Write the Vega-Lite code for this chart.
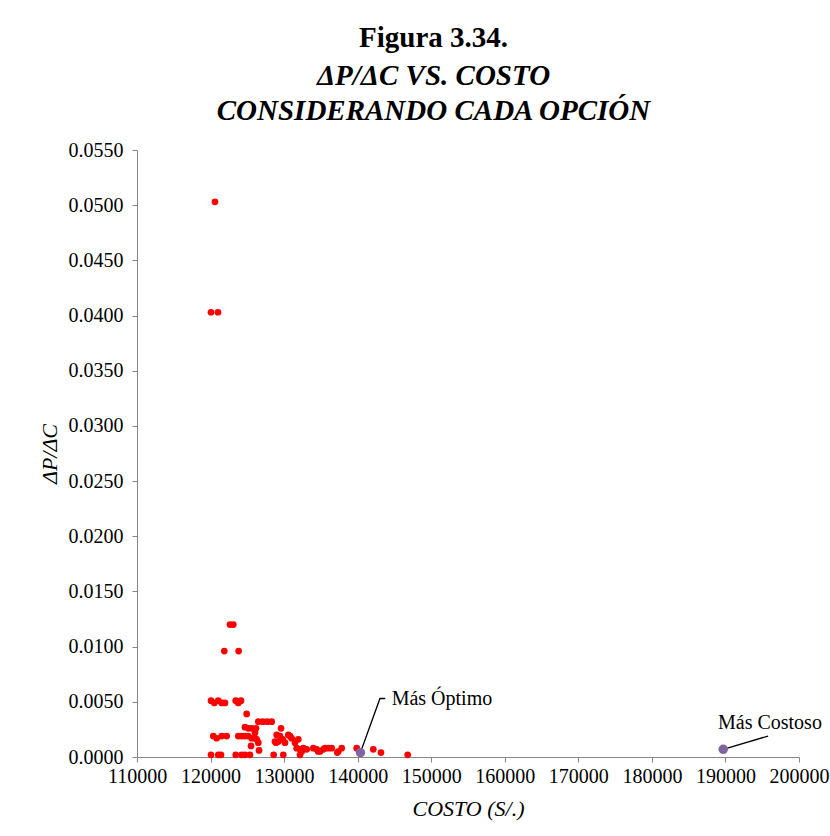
{
  "$schema": "https://vega.github.io/schema/vega-lite/v6.json",
  "width": 662,
  "height": 607,
  "autosize": {"type": "none"},
  "padding": {"left": 137, "top": 150, "right": 31, "bottom": 79},
  "background": "white",
  "title": {
    "text": "Figura 3.34.",
    "subtitle": ["ΔP/ΔC VS. COSTO", "CONSIDERANDO CADA OPCIÓN"],
    "anchor": "middle",
    "frame": "bounds",
    "font": "Liberation Serif",
    "fontSize": 29,
    "fontWeight": "bold",
    "color": "black",
    "subtitleFont": "Liberation Serif",
    "subtitleFontSize": 29,
    "subtitleFontWeight": "bold",
    "subtitleFontStyle": "italic",
    "subtitleColor": "black",
    "subtitleLineHeight": 35,
    "subtitlePadding": 9,
    "offset": 14
  },
  "config": {
    "view": {"stroke": null},
    "axis": {
      "grid": false,
      "domainColor": "#868686",
      "tickColor": "#868686",
      "tickSize": 5,
      "labelFont": "Liberation Serif",
      "labelFontSize": 20,
      "labelColor": "black",
      "labelOverlap": false,
      "labelFlush": false,
      "titleFont": "Liberation Serif",
      "titleFontSize": 22,
      "titleFontWeight": "normal",
      "titleFontStyle": "italic",
      "titleColor": "black"
    }
  },
  "datasets": {
    "points": [
      {"costo": 120600, "dpdc": 0.0503},
      {"costo": 120060, "dpdc": 0.0403},
      {"costo": 121010, "dpdc": 0.0403},
      {"costo": 122640, "dpdc": 0.0120},
      {"costo": 123090, "dpdc": 0.0120},
      {"costo": 121870, "dpdc": 0.0096},
      {"costo": 123820, "dpdc": 0.0096},
      {"costo": 120060, "dpdc": 0.0051},
      {"costo": 120510, "dpdc": 0.0049},
      {"costo": 121050, "dpdc": 0.0051},
      {"costo": 121510, "dpdc": 0.0049},
      {"costo": 121960, "dpdc": 0.0049},
      {"costo": 123420, "dpdc": 0.0051},
      {"costo": 123770, "dpdc": 0.0049},
      {"costo": 124140, "dpdc": 0.0051},
      {"costo": 124910, "dpdc": 0.0039},
      {"costo": 126490, "dpdc": 0.0032},
      {"costo": 127090, "dpdc": 0.0032},
      {"costo": 127710, "dpdc": 0.0032},
      {"costo": 128310, "dpdc": 0.0032},
      {"costo": 124680, "dpdc": 0.0027},
      {"costo": 125130, "dpdc": 0.0026},
      {"costo": 125590, "dpdc": 0.0026},
      {"costo": 126180, "dpdc": 0.0026},
      {"costo": 129580, "dpdc": 0.0026},
      {"costo": 120370, "dpdc": 0.0019},
      {"costo": 120830, "dpdc": 0.0017},
      {"costo": 121510, "dpdc": 0.0019},
      {"costo": 122190, "dpdc": 0.0019},
      {"costo": 123770, "dpdc": 0.0019},
      {"costo": 124230, "dpdc": 0.0019},
      {"costo": 124680, "dpdc": 0.0019},
      {"costo": 125130, "dpdc": 0.0019},
      {"costo": 125590, "dpdc": 0.0017},
      {"costo": 126040, "dpdc": 0.0017},
      {"costo": 126270, "dpdc": 0.0016},
      {"costo": 126490, "dpdc": 0.0013},
      {"costo": 125500, "dpdc": 0.0010},
      {"costo": 126590, "dpdc": 0.0006},
      {"costo": 126040, "dpdc": 0.0022},
      {"costo": 128990, "dpdc": 0.0020},
      {"costo": 129440, "dpdc": 0.0019},
      {"costo": 129810, "dpdc": 0.0016},
      {"costo": 128900, "dpdc": 0.0013},
      {"costo": 130120, "dpdc": 0.0013},
      {"costo": 130570, "dpdc": 0.0020},
      {"costo": 131030, "dpdc": 0.0017},
      {"costo": 131480, "dpdc": 0.0013},
      {"costo": 131930, "dpdc": 0.0016},
      {"costo": 131710, "dpdc": 0.0008},
      {"costo": 132160, "dpdc": 0.0007},
      {"costo": 132610, "dpdc": 0.0008},
      {"costo": 133070, "dpdc": 0.0007},
      {"costo": 133970, "dpdc": 0.0008},
      {"costo": 134430, "dpdc": 0.0007},
      {"costo": 134880, "dpdc": 0.0005},
      {"costo": 135330, "dpdc": 0.0007},
      {"costo": 136010, "dpdc": 0.0008},
      {"costo": 136470, "dpdc": 0.0008},
      {"costo": 137360, "dpdc": 0.0005},
      {"costo": 137830, "dpdc": 0.0008},
      {"costo": 139870, "dpdc": 0.0008},
      {"costo": 142120, "dpdc": 0.0007},
      {"costo": 143170, "dpdc": 0.0004},
      {"costo": 146800, "dpdc": 0.0002},
      {"costo": 120060, "dpdc": 0.0002},
      {"costo": 121050, "dpdc": 0.0002},
      {"costo": 121420, "dpdc": 0.0002},
      {"costo": 123420, "dpdc": 0.0002},
      {"costo": 124230, "dpdc": 0.0002},
      {"costo": 124680, "dpdc": 0.0002},
      {"costo": 125360, "dpdc": 0.0002},
      {"costo": 128580, "dpdc": 0.0002},
      {"costo": 129890, "dpdc": 0.0002},
      {"costo": 132160, "dpdc": 0.0002},
      {"costo": 128760, "dpdc": 0.0014},
      {"costo": 129210, "dpdc": 0.0014},
      {"costo": 130800, "dpdc": 0.0019},
      {"costo": 132390, "dpdc": 0.0005},
      {"costo": 134640, "dpdc": 0.0005},
      {"costo": 137230, "dpdc": 0.0004},
      {"costo": 135560, "dpdc": 0.0008}
    ],
    "special": [
      {"costo": 140380, "dpdc": 0.0004, "label": "Más Óptimo"},
      {"costo": 189700, "dpdc": 0.0007, "label": "Más Costoso"}
    ],
    "leaders": [
      {"label": "Más Óptimo", "seq": 1, "costo": 140380, "dpdc": 0.0004},
      {"label": "Más Óptimo", "seq": 2, "costo": 143030, "dpdc": 0.0053},
      {"label": "Más Óptimo", "seq": 3, "costo": 143750, "dpdc": 0.0053},
      {"label": "Más Costoso", "seq": 1, "costo": 189700, "dpdc": 0.0007},
      {"label": "Más Costoso", "seq": 2, "costo": 195800, "dpdc": 0.0019}
    ],
    "labels": [
      {"label": "Más Óptimo", "costo": 144620, "dpdc": 0.0053, "align": "left"},
      {"label": "Más Costoso", "costo": 196050, "dpdc": 0.0031, "align": "center"}
    ]
  },
  "encoding": {
    "x": {
      "field": "costo",
      "type": "quantitative",
      "scale": {"domain": [110000, 200000], "nice": false, "zero": false},
      "axis": {
        "title": "COSTO (S/.)",
        "values": [110000, 120000, 130000, 140000, 150000, 160000, 170000, 180000, 190000, 200000],
        "format": "d",
        "labelPadding": 4,
        "titlePadding": 12
      }
    },
    "y": {
      "field": "dpdc",
      "type": "quantitative",
      "scale": {"domain": [0, 0.055], "nice": false},
      "axis": {
        "title": "ΔP/ΔC",
        "values": [0, 0.005, 0.01, 0.015, 0.02, 0.025, 0.03, 0.035, 0.04, 0.045, 0.05, 0.055],
        "format": ".4f",
        "labelPadding": 9,
        "titlePadding": 7
      }
    }
  },
  "layer": [
    {
      "data": {"name": "leaders"},
      "mark": {"type": "line", "color": "black", "strokeWidth": 1.3},
      "encoding": {
        "detail": {"field": "label"},
        "order": {"field": "seq"}
      }
    },
    {
      "data": {"name": "points"},
      "mark": {"type": "circle", "color": "#FF0000", "opacity": 1, "size": 45}
    },
    {
      "data": {"name": "special"},
      "mark": {"type": "circle", "color": "#8064A2", "opacity": 1, "size": 90}
    },
    {
      "data": {"name": "labels"},
      "transform": [{"filter": "datum.align == 'left'"}],
      "mark": {"type": "text", "align": "left", "baseline": "middle", "font": "Liberation Serif", "fontSize": 20, "color": "black"},
      "encoding": {"text": {"field": "label"}}
    },
    {
      "data": {"name": "labels"},
      "transform": [{"filter": "datum.align == 'center'"}],
      "mark": {"type": "text", "align": "center", "baseline": "middle", "font": "Liberation Serif", "fontSize": 20, "color": "black"},
      "encoding": {"text": {"field": "label"}}
    }
  ]
}
